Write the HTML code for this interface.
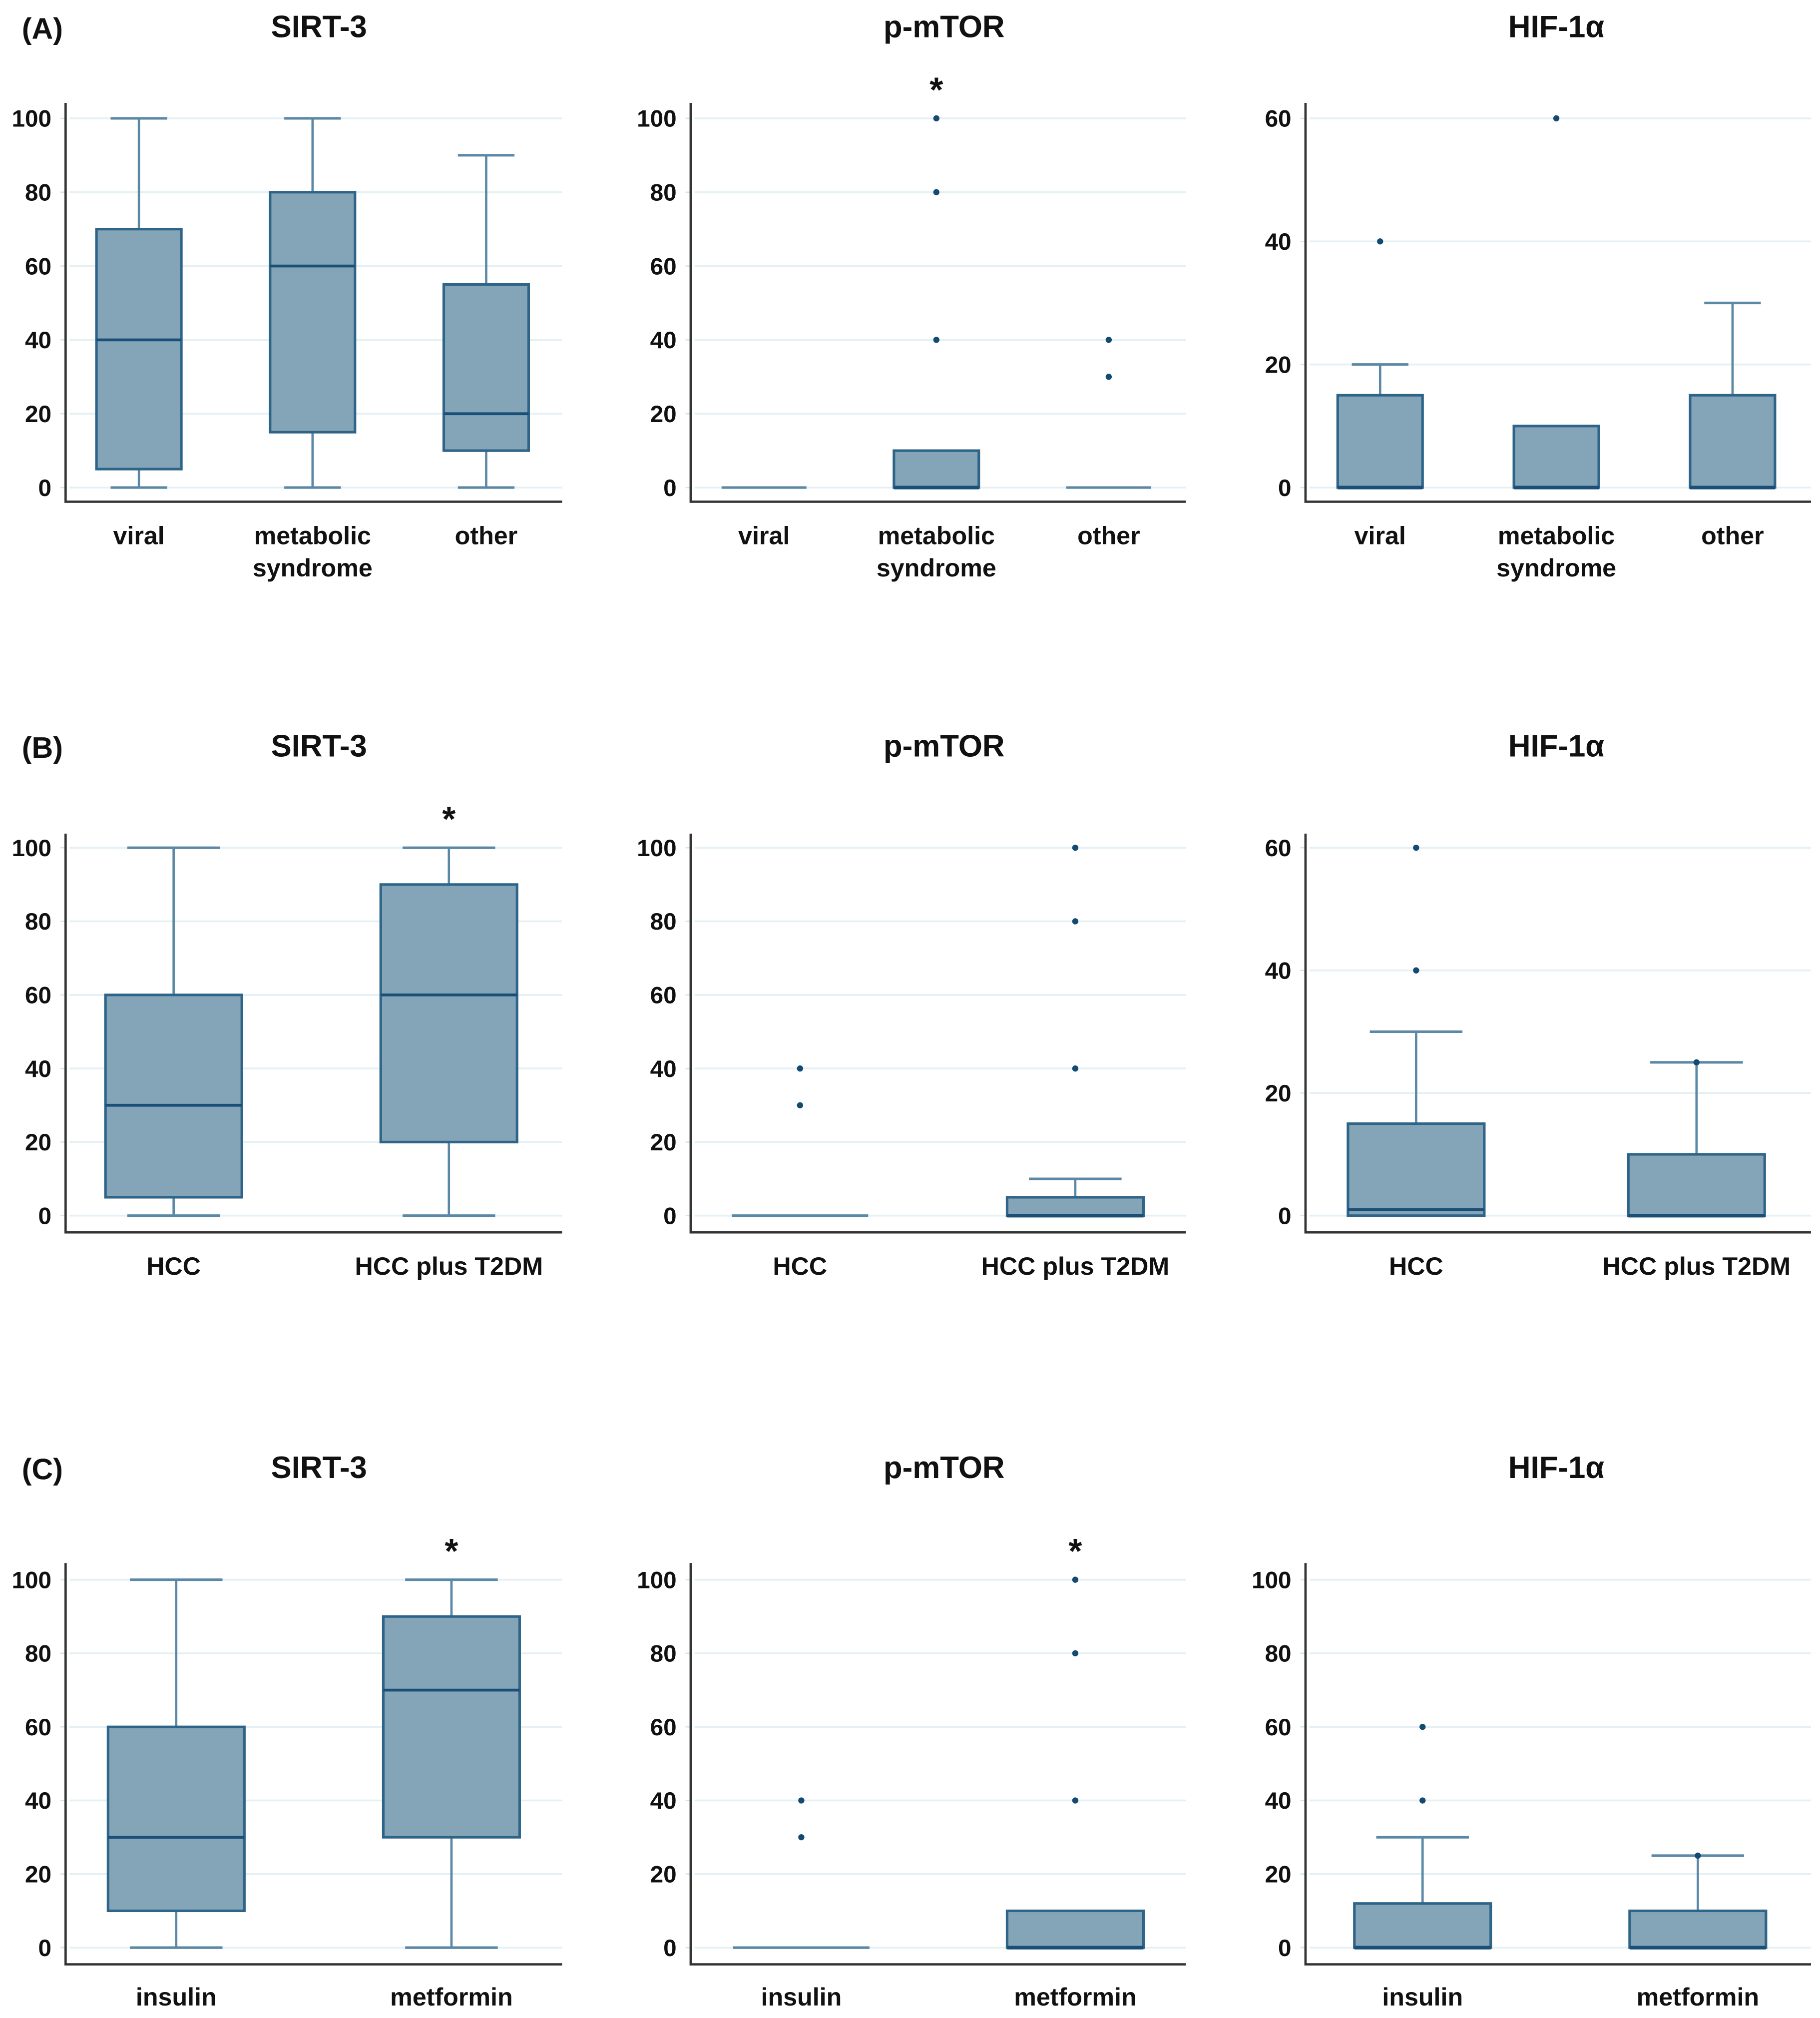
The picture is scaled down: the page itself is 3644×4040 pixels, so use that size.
<!DOCTYPE html>
<html><head><meta charset="utf-8"><style>
html,body{margin:0;padding:0;background:#fff;}
svg{display:block;font-family:"Liberation Sans",Arial,sans-serif;}
</style></head><body>
<svg id="fig" width="3644" height="4040" viewBox="0 0 1415 1568.7" preserveAspectRatio="none" xmlns="http://www.w3.org/2000/svg"></svg>
<script>
// ---- data ----
const rowLabels = ["(A)", "(B)", "(C)"];
const panelTitles = ["SIRT-3", "p-mTOR", "HIF-1α"];
const catsA = [["viral"], ["metabolic", "syndrome"], ["other"]];
const catsB = [["HCC"], ["HCC plus T2DM"]];
const catsC = [["insulin"], ["metformin"]];
// box stats: [min, q1, median, q3, max]
const a_sirt = [[0,5,40,70,100],[0,15,60,80,100],[0,10,20,55,90]];
const a_mtor = [[0,0,0,0,0],[0,0,0,10,10],[0,0,0,0,0]];
const a_hif  = [[0,0,0,15,20],[0,0,0,10,10],[0,0,0,15,30]];
const b_sirt = [[0,5,30,60,100],[0,20,60,90,100]];
const b_mtor = [[0,0,0,0,0],[0,0,0,5,10]];
const b_hif  = [[0,0,1,15,30],[0,0,0,10,25]];
const c_sirt = [[0,10,30,60,100],[0,30,70,90,100]];
const c_mtor = [[0,0,0,0,0],[0,0,0,10,10]];
const c_hif  = [[0,0,0,12,30],[0,0,0,10,25]];
// outliers per group
const a_sirt_out = [[],[],[]];
const a_mtor_out = [[],[40,80,100],[30,40]];
const a_hif_out  = [[40],[60],[]];
const b_sirt_out = [[],[]];
const b_mtor_out = [[30,40],[40,80,100]];
const b_hif_out  = [[40,60],[25]];
const c_sirt_out = [[],[]];
const c_mtor_out = [[30,40],[40,80,100]];
const c_hif_out  = [[40,60],[25]];
// star markers (group index or -1)
const a_stars = [-1, 1, -1];
const b_stars = [1, -1, -1];
const c_stars = [1, 1, -1];
const ticks100 = [0,20,40,60,80,100];
const ticks60 = [0,20,40,60];

const NS = "http://www.w3.org/2000/svg";
const svg = document.getElementById("fig");
function el(tag, attrs, parent){
  const e = document.createElementNS(NS, tag);
  for (const k in attrs) e.setAttribute(k, attrs[k]);
  (parent||svg).appendChild(e);
  return e;
}

const colX = [51, 537, 1015];
const colRight = [437, 922, 1408];
const titleX = [248, 734, 1210];
const rows = [
  {y100:92, y0:379, bottom:390, top:80, title:21, lab:[417,442], half:33, cap:22, cats:catsA,
   data:[a_sirt,a_mtor,a_hif], out:[a_sirt_out,a_mtor_out,a_hif_out], stars:a_stars, ymax:[100,100,60],
   cx:[[108,243,378],[594,728,862],[1073,1210,1347]]},
  {y100:659, y0:945, bottom:958, top:648, title:580, lab:[985], half:53, cap:36, cats:catsB,
   data:[b_sirt,b_mtor,b_hif], out:[b_sirt_out,b_mtor_out,b_hif_out], stars:b_stars, ymax:[100,100,60],
   cx:[[135,349],[622,836],[1101,1319]]},
  {y100:1228, y0:1514, bottom:1527, top:1215, title:1141, lab:[1553], half:53, cap:36, cats:catsC,
   data:[c_sirt,c_mtor,c_hif], out:[c_sirt_out,c_mtor_out,c_hif_out], stars:c_stars, ymax:[100,100,100],
   cx:[[137,351],[623,836],[1106,1320]]}
];
const fillC="#84a4b8", strokeC="#2e6488", whiskC="#5a88a6", dotC="#124a72";

rows.forEach((r, ri) => {
  const rl = el("text", {x:17, y:r.title+9, "font-size":23, "font-weight":"bold", fill:"#111"});
  
  
  rl.textContent = rowLabels[ri];
  for (let c=0;c<3;c++){
    const g = el("g", {});
    
    
    const ymax = r.ymax[c];
    const ys = v => r.y0 - (v/ymax)*(r.y0 - r.y100);
    const tks = ymax===60 ? ticks60 : ticks100;
    const t = el("text", {x:titleX[c], y:r.title+8, "text-anchor":"middle", "font-size":24, "font-weight":"bold", fill:"#111"}, g);
    
    
    t.textContent = panelTitles[c];
    tks.forEach(v => {
      const gl = el("line", {x1:colX[c]+3, x2:colRight[c], y1:ys(v), y2:ys(v), stroke:"#e4f0f4", "stroke-width":1.4}, g);
      
      
      el("line", {x1:colX[c]-4, x2:colX[c], y1:ys(v), y2:ys(v), stroke:"#cfe6ef", "stroke-width":1}, g);
      const tl = el("text", {x:colX[c]-11, y:ys(v)+6.5, "text-anchor":"end", "font-size":18.5, "font-weight":"bold", fill:"#111"}, g);
      
      
      tl.textContent = v;
    });
    const ax = el("path", {d:`M${colX[c]},${r.top} V${r.bottom} H${colRight[c]}`, fill:"none", stroke:"#333", "stroke-width":1.8}, g);
    
    
    const data = r.data[c];
    data.forEach((s, gi) => {
      const x = r.cx[c][gi];
      const [mn,q1,md,q3,mx] = s;
      if (mx > q3){
        el("line", {x1:x, x2:x, y1:ys(q3), y2:ys(mx), stroke:whiskC, "stroke-width":1.8}, g);
        const cp = el("line", {x1:x-r.cap, x2:x+r.cap, y1:ys(mx), y2:ys(mx), stroke:whiskC, "stroke-width":2}, g);
        
        
      }
      if (q1 > mn){
        el("line", {x1:x, x2:x, y1:ys(q1), y2:ys(mn), stroke:whiskC, "stroke-width":1.8}, g);
        el("line", {x1:x-r.cap, x2:x+r.cap, y1:ys(mn), y2:ys(mn), stroke:whiskC, "stroke-width":2}, g);
      }
      if (q3 > q1){
        const b = el("rect", {x:x-r.half, y:ys(q3), width:2*r.half, height:ys(q1)-ys(q3), fill:fillC, stroke:strokeC, "stroke-width":2}, g);
        
        
        el("line", {x1:x-r.half, x2:x+r.half, y1:ys(md), y2:ys(md), stroke:"#1a5078", "stroke-width":md===q1?2.8:2.2}, g);
      } else {
        const b = el("line", {x1:x-r.half, x2:x+r.half, y1:ys(md), y2:ys(md), stroke:whiskC, "stroke-width":2}, g);
        
        
      }
      r.out[c][gi].forEach(v => {
        const d = el("circle", {cx:x, cy:ys(v), r:2.4, fill:dotC}, g);
        
        
      });
      if (r.stars[c] === gi){
        const st = el("text", {x:x, y:r.y100-13, "text-anchor":"middle", "font-size":27, "font-weight":"bold", fill:"#111"}, g);
        
        
        st.textContent = "*";
      }
      r.cats[gi].forEach((line, li) => {
        const cl = el("text", {x:x, y:r.lab[li]+6, "text-anchor":"middle", "font-size":19.5, "font-weight":"bold", fill:"#111"}, g);
        
        
        cl.textContent = line;
      });
    });
  }
});
</script>
</body></html>
